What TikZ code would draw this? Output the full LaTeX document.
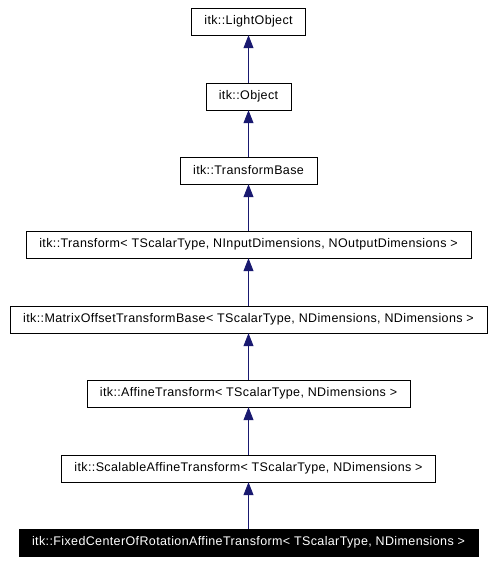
\documentclass[tikz,border=0pt]{standalone}
\usepackage{fontspec}
\setmainfont{Liberation Sans}
\newfontfamily\dotfont[LetterSpace=3]{Liberation Sans}
\usepackage{tikz}
\usetikzlibrary{arrows.meta,positioning}
\definecolor{edgeblue}{RGB}{25,25,112}

\begin{document}
\begin{tikzpicture}[>={Triangle[length=13pt,width=10pt]},x=1pt,y=1pt]
  \tikzset{
    cls/.style={draw=black,fill=white,inner xsep=13pt,minimum height=27pt,font=\dotfont\fontsize{12.5}{14}\selectfont},
    cur/.style={cls,fill=black,text=white},
    inh/.style={edgeblue,thick,->}
  }
  \useasboundingbox (0,0) rectangle (495,-564);

  \node[cls] (light) at (248.5,-21.5) {itk::LightObject};
  \node[cls] (obj) at (248.5,-96.5) {itk::Object};
  \node[cls] (tbase) at (248.5,-170.5) {itk::TransformBase};
  \node[cls] (trans) at (248.5,-244.5) {itk::Transform\textless{} TScalarType, NInputDimensions, NOutputDimensions \textgreater};
  \node[cls] (mobase) at (248.5,-319.5) {itk::MatrixOffsetTransformBase\textless{} TScalarType, NDimensions, NDimensions \textgreater};
  \node[cls] (affine) at (248.5,-393.5) {itk::AffineTransform\textless{} TScalarType, NDimensions \textgreater};
  \node[cls] (scal) at (248.5,-468.5) {itk::ScalableAffineTransform\textless{} TScalarType, NDimensions \textgreater};
  \node[cur] (fixed) at (248.5,-542.5) {itk::FixedCenterOfRotationAffineTransform\textless{} TScalarType, NDimensions \textgreater};

  \draw[inh] (obj) -- (light);
  \draw[inh] (tbase) -- (obj);
  \draw[inh] (trans) -- (tbase);
  \draw[inh] (mobase) -- (trans);
  \draw[inh] (affine) -- (mobase);
  \draw[inh] (scal) -- (affine);
  \draw[inh] (fixed) -- (scal);
\end{tikzpicture}
\end{document}
